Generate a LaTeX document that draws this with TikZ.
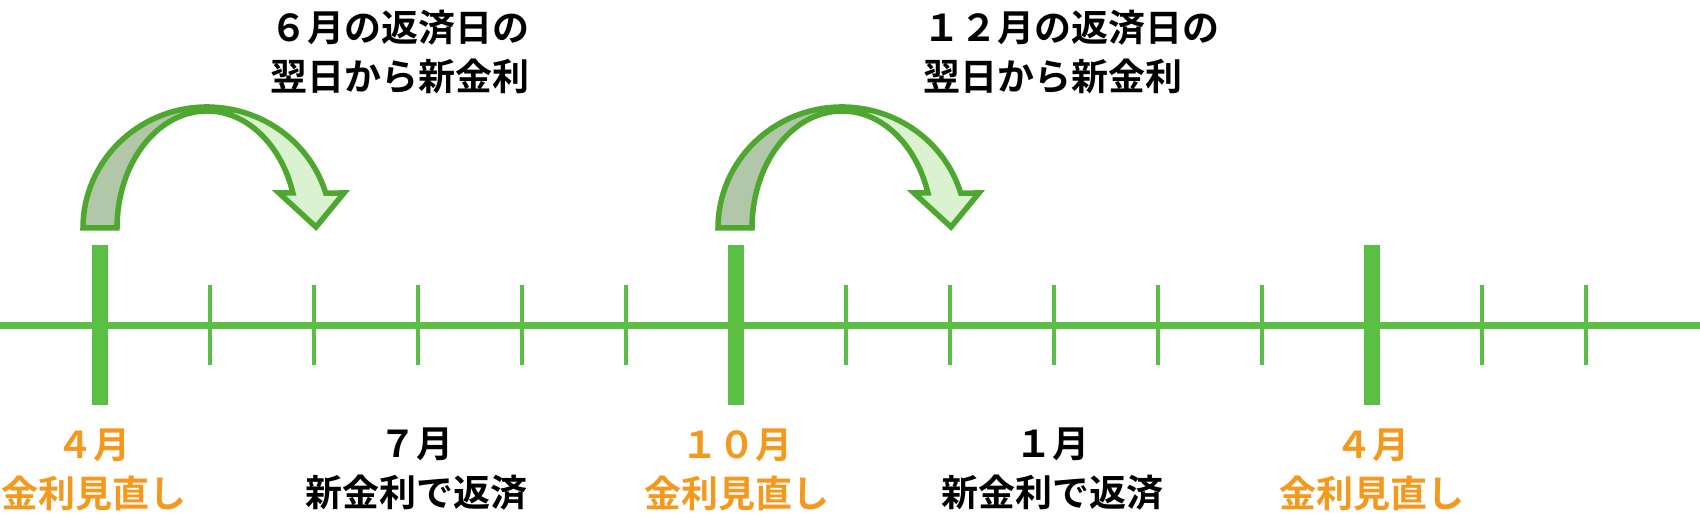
\documentclass[tikz,border=0pt]{standalone}
\usepackage{fontspec}
\usepackage{tikz}
\usetikzlibrary{positioning}
\newfontfamily\jpfont{Noto Sans CJK JP}[UprightFont=* Bold]
\definecolor{lineGreen}{HTML}{5BBF43}
\definecolor{edgeGreen}{HTML}{4EA72E}
\definecolor{backGreen}{HTML}{B2C7A9}
\definecolor{frontGreen}{HTML}{DAF2D0}
\definecolor{revOrange}{HTML}{F39A1E}

\begin{document}
\begin{tikzpicture}
    [x=0.5pt, y=0.5pt,
    every node/.style = {inner sep=0pt, align=center,
        font=\jpfont\fontsize{18.5pt}{24.5pt}\selectfont},
    revnote/.style = {text=revOrange},
    paynote/.style = {text=black},
    topnote/.style = {anchor=west, align=left},
    majortick/.style = {draw=lineGreen, line width=8pt},
    minortick/.style = {draw=lineGreen, line width=2pt},
    turnback/.style = {draw=edgeGreen, fill=backGreen, line width=2.75pt},
    turnfront/.style = {draw=edgeGreen, fill=frontGreen, line width=2.75pt}]

    \useasboundingbox (0,0) rectangle (1700,518);

    % time line
    \draw[lineGreen, line width=3.25pt] (0,192.5) -- (1700,192.5);
    \foreach \x in {100,736,1372}
        \draw[majortick] (\x,113) -- (\x,273);
    \foreach \x in {210,314,418,522,626,846,950,1054,1158,1262,1482,1586}
        \draw[minortick] (\x,153) -- (\x,233);

    % curved arrows
    \foreach \dx in {0,635} {
        \begin{scope}[xshift=\dx*0.5pt]
        \draw[turnback] (83,290) arc[start angle=180, end angle=90, x radius=124, y radius=121]
            -- (207,407) arc[start angle=90, end angle=180, x radius=90, y radius=117] -- cycle;
        \draw[turnfront] (207,411) arc[start angle=90, end angle=16.8, x radius=124, y radius=121]
            -- (344,325) -- (316,291) -- (279,325) -- (292.9,325)
            arc[start angle=17.4, end angle=90, x radius=90, y radius=117] -- cycle;
        \end{scope}
    }

    \node[topnote] (next6) at (270,465.5) {６月の返済日の\\翌日から新金利};
    \node[topnote] (next12) at (923,465.5) {１２月の返済日の\\翌日から新金利};

    \node[revnote] (rev4) at (94,48.5) {４月\\金利見直し};
    \node[paynote] (pay7) at (416,48.5) {７月\\新金利で返済};
    \node[revnote] (rev10) at (737,48.5) {１０月\\金利見直し};
    \node[paynote] (pay1) at (1052,48.5) {１月\\新金利で返済};
    \node[revnote] (rev4next) at (1372,48.5) {４月\\金利見直し};
\end{tikzpicture}
\end{document}
